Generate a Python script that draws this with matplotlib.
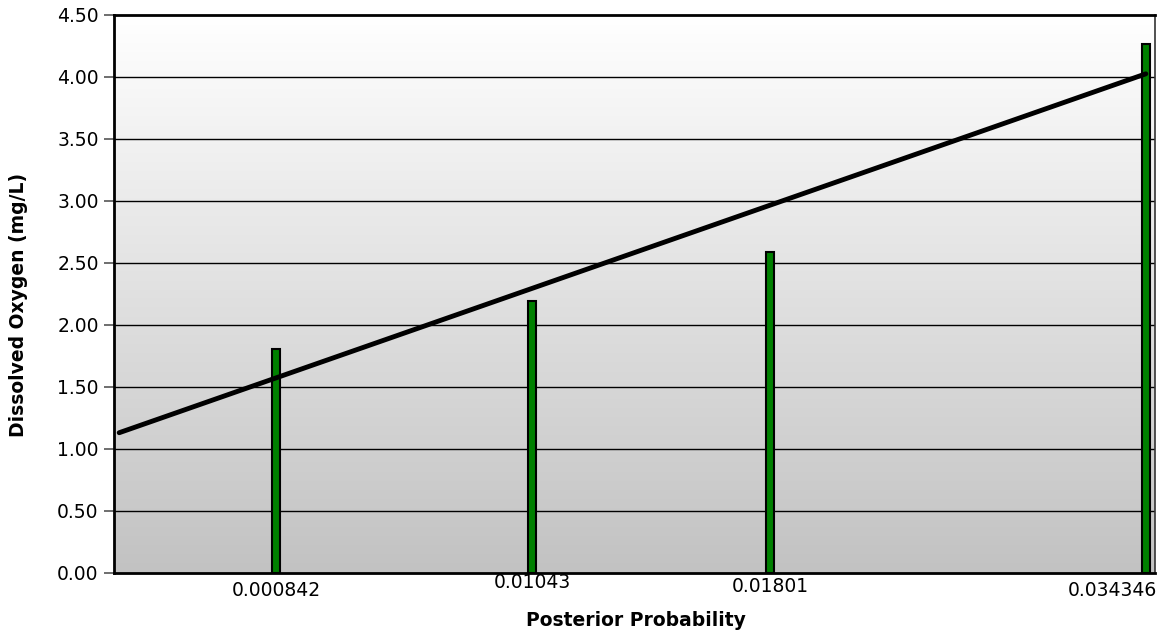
import numpy as np
import matplotlib
matplotlib.use("Agg")
import matplotlib.pyplot as plt
from matplotlib.colors import LinearSegmentedColormap

# Data
x_labels = ["0.000842", "0.01043", "0.01801", "0.034346"]
x_values = [0.000842, 0.01070, 0.01987, 0.034346]   # horizontal positions of the bars
do_values = [1.81, 2.19, 2.59, 4.27]                 # Dissolved oxygen (mg/L)
y_ticks = [0.0, 0.5, 1.0, 1.5, 2.0, 2.5, 3.0, 3.5, 4.0, 4.5]
trend_x_start = -0.0052

plt.rcParams['font.family'] = ['DejaVu Sans']

fig = plt.figure(figsize=(11.75, 6.33), dpi=100)
ax = fig.add_axes([114/1175, 1-573/633, (1155-114)/1175, (573-15)/633])

xmin, xmax = -0.0054, 0.0347
ax.set_xlim(xmin, xmax)
ax.set_ylim(0, 4.5)

# gradient background
grad = np.linspace(0, 1, 256).reshape(-1, 1)
cmap = LinearSegmentedColormap.from_list("bg", ["#c2c2c2", "#ffffff"])
ax.imshow(grad, aspect='auto', cmap=cmap, origin='lower',
          extent=[xmin, xmax, 0, 4.5], zorder=0)

# grid lines
for t in y_ticks[1:-1]:
    ax.axhline(t, color='black', lw=1.0, zorder=1)

# bars
ax.bar(x_values, do_values, width=0.00030, color='#008000',
       edgecolor='black', linewidth=1.5, zorder=3)

# linear trend line
coef = np.polyfit(x_values, do_values, 1)
tx = np.array([trend_x_start, x_values[-1]])
ax.plot(tx, np.polyval(coef, tx), color='black', lw=3.5,
        solid_capstyle='round', zorder=4)

# axes styling
for s in ['left', 'bottom', 'top']:
    ax.spines[s].set_linewidth(2.0)
    ax.spines[s].set_color('black')
ax.spines['right'].set_linewidth(1.2)
ax.spines['right'].set_color('#333333')
for s in ax.spines.values():
    s.set_zorder(5)

fs = 13.5
ax.set_yticks(y_ticks)
ax.set_yticklabels([f"{v:.2f}" for v in y_ticks], fontsize=fs)
ax.tick_params(axis='y', length=7, width=1.2, color='#555555', pad=4)
ax.set_xticks([])

# category labels under the bars (Excel-like offsets)
label_offsets = [(0, -17), (0, -10), (0, -14), (-33, -18)]
for xv, lab, (dx, dy) in zip(x_values, x_labels, label_offsets):
    ax.annotate(lab, xy=(xv, 0), xytext=(dx, dy), textcoords='offset pixels',
                ha='center', va='center', fontsize=fs)

fig.text(636/1175, 1-621/633, "Posterior Probability", ha='center', va='center',
         fontsize=fs, fontweight='bold')
fig.text(19/1175, 1-305/633, "Dissolved Oxygen (mg/L)", ha='center', va='center',
         rotation=90, fontsize=fs, fontweight='bold')

fig.savefig("out.png", dpi=100)
